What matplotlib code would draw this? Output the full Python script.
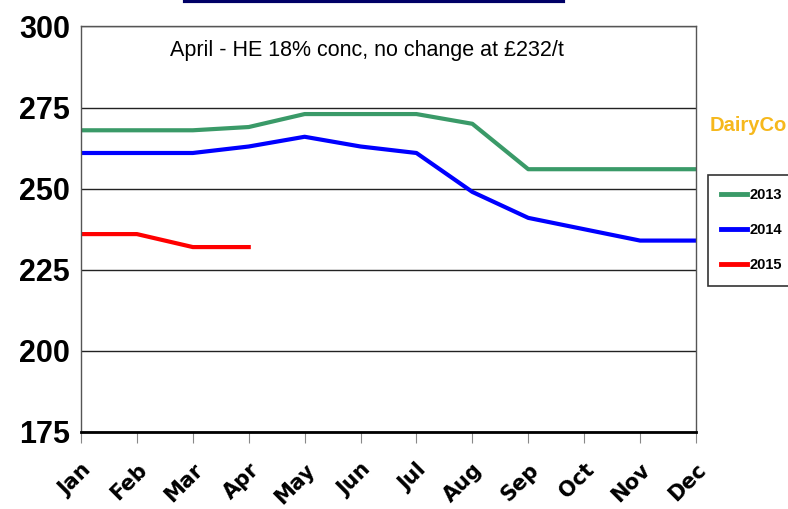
import matplotlib
matplotlib.use("Agg")
import matplotlib.pyplot as plt
from matplotlib import font_manager
from matplotlib.lines import Line2D

months = ["Jan", "Feb", "Mar", "Apr", "May", "Jun", "Jul", "Aug", "Sep", "Oct", "Nov", "Dec"]
vals_2013 = [268, 268, 268, 269, 273, 273, 273, 270, 256, 256, 256, 256]
vals_2014 = [261, 261, 261, 263, 266, 263, 261, 249, 241, 237.5, 234, 234]
vals_2015 = [236, 236, 232, 232]
yticks = [175, 200, 225, 250, 275, 300]

names = set(f.name for f in font_manager.fontManager.ttflist)
narrow = "Liberation Sans Narrow" if "Liberation Sans Narrow" in names else "Liberation Sans"

fig = plt.figure(figsize=(7.88, 5.09), dpi=100)
ax = fig.add_axes([0.1028, 0.1513, 0.7804, 0.7967])

x = list(range(len(months)))
ax.plot(x, vals_2013, color="#3a9a68", lw=3, label="2013", solid_joinstyle="round")
ax.plot(x, vals_2014, color="#0000ff", lw=3, label="2014", solid_joinstyle="round")
ax.plot(x[:len(vals_2015)], vals_2015, color="#ff0000", lw=3, label="2015", solid_joinstyle="round")

ax.set_xlim(0, len(months) - 1)
ax.set_ylim(175, 300)
ax.set_yticks(yticks)
ax.set_yticklabels([str(v) for v in yticks], fontsize=22, fontweight="bold", family=narrow)
ax.tick_params(axis="y", length=0, pad=8)
ax.yaxis.grid(True, color="#222222", lw=1)
ax.set_axisbelow(True)

ax.set_xticks(x)
ax.set_xticklabels(months, rotation=45, ha="right", rotation_mode="anchor",
                   fontsize=15, fontweight="bold", family="DejaVu Sans")
ax.tick_params(axis="x", direction="out", length=8, color="#888888", pad=12)

for s in ["left", "right", "top"]:
    ax.spines[s].set_color("#555555")
    ax.spines[s].set_linewidth(1)
ax.spines["bottom"].set_color("black")
ax.spines["bottom"].set_linewidth(2)

ax.text(0.465, 0.94, "April - HE 18% conc, no change at £232/t", transform=ax.transAxes,
        ha="center", va="center", fontsize=15.5, family="Liberation Sans")

# logo text and top banner edge
fig.text(0.9, 0.753, "DairyCo", color="#f6b81c", fontsize=14.5, fontweight="bold",
         family=narrow, ha="left", va="center")
fig.add_artist(Line2D([185 / 788, 563 / 788], [0.998, 0.998], color="#000066", lw=3))

leg = ax.legend(loc="upper left", bbox_to_anchor=(708 / 788, 1 - 175 / 509),
                bbox_transform=fig.transFigure, frameon=True, fancybox=False,
                prop={"family": narrow, "weight": "bold", "size": 10.5},
                handlelength=1.8, handletextpad=0.15, labelspacing=1.45,
                borderpad=0.9, borderaxespad=0)
for h in leg.get_lines():
    h.set_linewidth(3.5)
leg.get_frame().set_edgecolor("black")
leg.get_frame().set_linewidth(1.2)

fig.savefig("out.png", dpi=100)
